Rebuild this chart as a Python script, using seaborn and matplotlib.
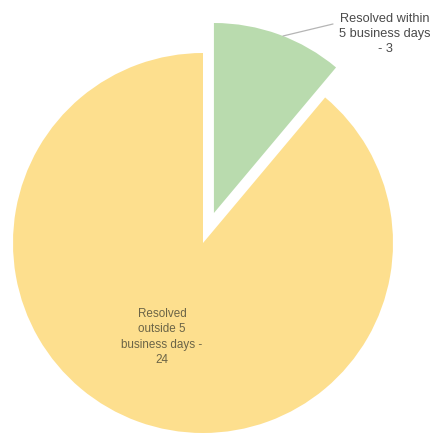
import matplotlib
matplotlib.use("Agg")
import matplotlib.pyplot as plt
import seaborn as sns

sns.set_theme(style="white")
plt.rcParams["font.family"] = ["Liberation Sans", "DejaVu Sans"]

categories = ["Resolved within\n5 business days", "Resolved\noutside 5\nbusiness days"]
counts = [3, 24]
colors = ["#B9DBAE", "#FDDF8E"]

W, H = 437, 436
fig = plt.figure(figsize=(W / 100, H / 100), dpi=100)
ax = fig.add_axes([0, 0, 1, 1])

# pixel layout of the pie: centre and radius
cx, cy, r = 203, 243, 190

def to_data(px, py):
    return (px - cx) / r, (cy - py) / r

wedges, _ = ax.pie(
    counts,
    colors=colors,
    startangle=90,
    counterclock=False,
    explode=[0.168, 0],
    radius=1,
    center=(0, 0),
    wedgeprops=dict(linewidth=0),
)

ax.set_xlim((0 - cx) / r, (W - cx) / r)
ax.set_ylim((cy - H) / r, cy / r)
ax.set_aspect("equal")
ax.axis("off")

text_color = "#4a4a4a"

# outside label for the small slice, with a leader line
x0, y0 = to_data(283, 36)
x1, y1 = to_data(333, 24)
ax.plot([x0, x1], [y0, y1], color="#b5b5b5", lw=0.9)
tx, ty = to_data(385, 34)
ax.text(tx, ty, f"{categories[0]}\n- {counts[0]}", ha="center", va="center",
        fontsize=9.2, color=text_color, linespacing=1.3)

# inside label for the large slice
tx, ty = to_data(162, 337)
ax.text(tx, ty, f"{categories[1]} -\n{counts[1]}", ha="center", va="center",
        fontsize=8.4, color="#6b6447", linespacing=1.35)

fig.savefig("out.png", dpi=100, facecolor="white")
